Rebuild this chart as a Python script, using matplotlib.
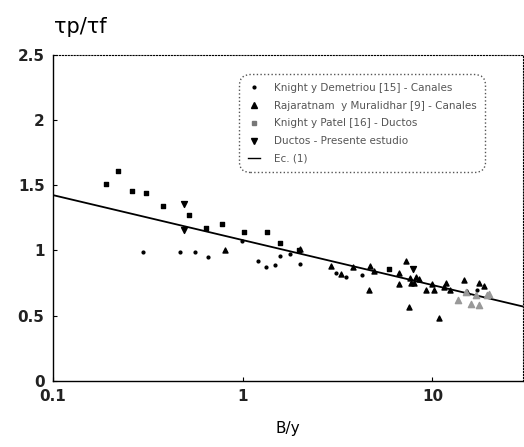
import numpy as np
import matplotlib.pyplot as plt
from matplotlib.lines import Line2D

# Knight y Demetriou [15] - Canales (puntos)
kd_x = [0.30, 0.47, 0.56, 0.66, 0.99, 1.20, 1.33, 1.48, 1.57, 1.77, 2.0, 3.09, 3.5, 4.27, 17.1]
kd_y = [0.99, 0.99, 0.99, 0.95, 1.07, 0.92, 0.87, 0.89, 0.96, 0.97, 0.90, 0.83, 0.80, 0.81, 0.70]

# Rajaratnam y Muralidhar [9] - Canales (triangulos)
rm_x = [0.81, 2.0, 2.93, 3.28, 3.81, 4.62, 4.7, 4.95, 6.65, 6.7, 7.27, 7.5, 7.6, 7.72,
        8.03, 8.2, 8.54, 9.24, 9.89, 10.2, 10.86, 11.5, 11.8, 12.4, 14.7, 15.3, 17.5, 18.7]
rm_y = [1.0, 1.01, 0.88, 0.82, 0.87, 0.70, 0.88, 0.84, 0.83, 0.74, 0.92, 0.57, 0.79, 0.75,
        0.75, 0.80, 0.78, 0.70, 0.74, 0.70, 0.48, 0.72, 0.75, 0.70, 0.77, 0.685, 0.75, 0.73]
# puntos del mismo grupo que salen desvanecidos en la copia
rm_gris_x = [13.6, 15.0, 15.9, 17.0, 17.7, 19.3, 19.8]
rm_gris_y = [0.62, 0.68, 0.59, 0.66, 0.58, 0.66, 0.67]

# Knight y Patel [16] - Ductos (cuadrados)
kp_x = [0.19, 0.22, 0.26, 0.31, 0.38, 0.52, 0.64, 0.78, 1.02, 1.35, 1.57, 1.98, 5.9]
kp_y = [1.51, 1.61, 1.46, 1.44, 1.34, 1.27, 1.17, 1.20, 1.145, 1.145, 1.056, 1.00, 0.86]

# Ductos - Presente estudio (triangulos invertidos)
pe_x = [0.49, 0.49, 7.9]
pe_y = [1.36, 1.16, 0.86]

# Ec. (1): tau_p/tau_f = a - b*log10(B/y)
ec_a = 1.08
ec_b = 0.345

xticks = [0.1, 1, 10]
xtick_labels = ['0.1', '1', '10']
yticks = [0, 0.5, 1, 1.5, 2, 2.5]
ytick_labels = ['0', '0.5', '1', '1.5', '2', '2.5']

fig = plt.figure(figsize=(5.24, 4.47), dpi=100)
ax = fig.add_axes([0.101, 0.148, 0.897, 0.729])

xl = np.logspace(-1, np.log10(30), 50)
ax.plot(xl, ec_a - ec_b * np.log10(xl), color='black', lw=1.3, zorder=2)

ax.scatter(kd_x, kd_y, marker='o', s=4, color='black', zorder=3)
ax.scatter(rm_x, rm_y, marker='^', s=13, color='black', zorder=3)
ax.scatter(rm_gris_x, rm_gris_y, marker='^', s=20, color='#999999', zorder=3)
ax.scatter(kp_x, kp_y, marker='s', s=12, color='black', zorder=3)
ax.scatter(pe_x, pe_y, marker='v', s=18, color='black', zorder=3)

ax.set_xscale('log')
ax.set_xlim(0.1, 30)
ax.set_ylim(0, 2.5)
ax.set_xticks(xticks)
ax.set_xticklabels(xtick_labels)
ax.set_yticks(yticks)
ax.set_yticklabels(ytick_labels)
ax.minorticks_off()
ax.tick_params(direction='in', length=3, labelsize=11, pad=6)
for lab in ax.get_xticklabels() + ax.get_yticklabels():
    lab.set_fontweight('bold')
    lab.set_color('#222222')

for s in ['top', 'right']:
    ax.spines[s].set_linestyle(':')
    ax.spines[s].set_linewidth(0.8)
ax.spines['left'].set_linewidth(1.0)
ax.spines['bottom'].set_linewidth(1.0)

ax.set_xlabel('B/y', fontsize=11, labelpad=12)
fig.text(0.103, 0.94, 'τp/τf', fontsize=15, ha='left', va='center')

handles = [
    Line2D([], [], marker='o', ms=2, ls='none', color='black'),
    Line2D([], [], marker='^', ms=4, ls='none', color='black'),
    Line2D([], [], marker='s', ms=3.5, ls='none', color='#777777'),
    Line2D([], [], marker='v', ms=4, ls='none', color='black'),
    Line2D([], [], color='black', lw=1),
]
labels = ['Knight y Demetriou [15] - Canales',
          'Rajaratnam  y Muralidhar [9] - Canales',
          'Knight y Patel [16] - Ductos',
          'Ductos - Presente estudio',
          'Ec. (1)']
leg = ax.legend(handles, labels, loc='upper left', bbox_to_anchor=(0.39, 0.95),
                fontsize=7.5, frameon=True, handlelength=1.2,
                handletextpad=1.3, labelspacing=0.75, borderpad=0.6,
                labelcolor='#555555', framealpha=1)
frame = leg.get_frame()
frame.set_boxstyle('round,pad=0.2,rounding_size=1.0')
frame.set_edgecolor('#555555')
frame.set_linestyle(':')
frame.set_linewidth(1.0)

fig.savefig('out.png', dpi=100)
